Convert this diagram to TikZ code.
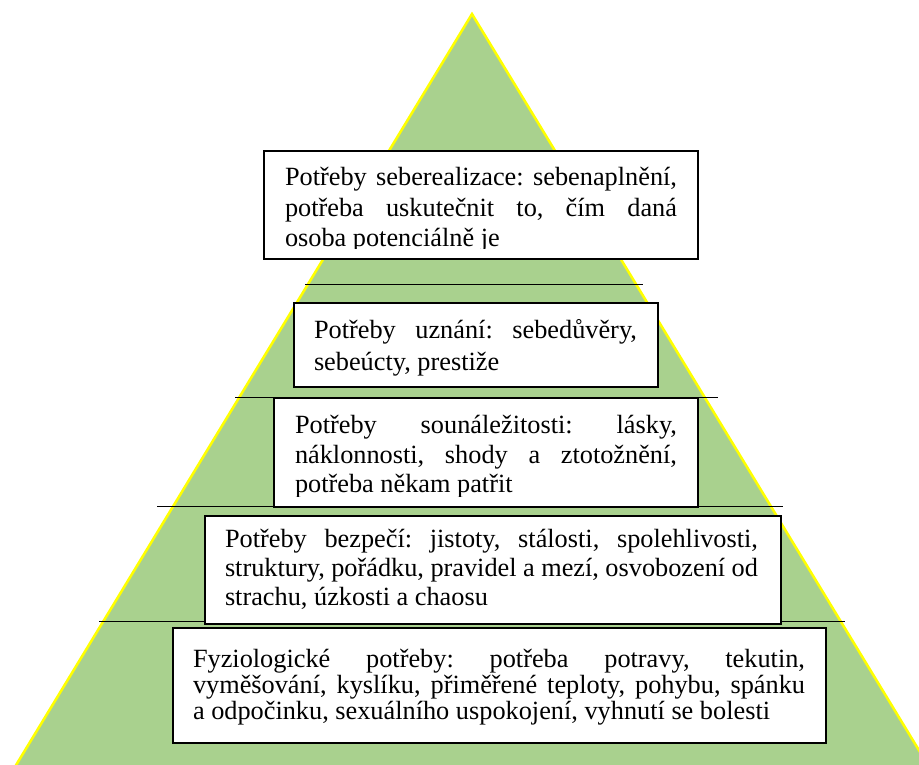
\documentclass[tikz,border=0pt]{standalone}
\usepackage{fontspec}
\setmainfont{Liberation Serif}
\definecolor{pyrgreen}{HTML}{A9D18E}
\definecolor{pyryellow}{HTML}{FFFF00}
\frenchspacing
\begin{document}
\frenchspacing
\begin{tikzpicture}[x=1pt,y=-1pt,
  box/.style={draw=black,line width=1.7pt,fill=white,inner sep=0pt,anchor=north west},
  txt/.style={anchor=base west,inner sep=0pt,outer sep=0pt,font=\fontsize{26.3}{30}\selectfont\frenchspacing},
  rule/.style={draw=black,line width=1pt}]
\useasboundingbox (0,0) rectangle (919,764);
\clip (0,0) rectangle (919,764);
% pyramid
\coordinate (apex) at (472,14);
\coordinate (bl) at (10,775);
\coordinate (br) at (934,775);
\fill[pyrgreen] (apex) -- (br) -- (bl) -- cycle;
\draw[pyryellow,line width=2.5pt,line join=miter] (bl) -- (apex) -- (br);
% horizontal rules
\coordinate (l1a) at (305,284); \coordinate (l1b) at (643,284);
\coordinate (l2a) at (235,397); \coordinate (l2b) at (718,397);
\coordinate (l3a) at (157,506); \coordinate (l3b) at (783,506);
\coordinate (l4a) at (99,621);  \coordinate (l4b) at (845,621);
\draw[rule] (l1a) -- (l1b);
\draw[rule] (l2a) -- (l2b);
\draw[rule] (l3a) -- (l3b);
\draw[rule] (l4a) -- (l4b);
% boxes
\node[box,minimum width=434pt,minimum height=108pt] (b1) at (263,150) {};
\node[box,minimum width=364pt,minimum height=84pt] (b2) at (293,302) {};
\node[box,minimum width=424pt,minimum height=109pt] (b3) at (273,397) {};
\node[box,minimum width=576pt,minimum height=108pt] (b4) at (204,515) {};
\node[box,minimum width=653pt,minimum height=115pt] (b5) at (172,627) {};
% texts box 1
\begin{scope}
\clip (263,150) rectangle (697,248);
\node[txt] (t1a) at (285,185) {\makebox[392pt][s]{Potřeby seberealizace: sebenaplnění,}};
\node[txt] (t1b) at (285,216) {\makebox[392pt][s]{potřeba uskutečnit to, čím daná}};
\node[txt] (t1c) at (285,246) {osoba potenciálně je};
\end{scope}
% box 2
\node[txt] (t2a) at (314,338) {\makebox[323pt][s]{Potřeby uznání: sebedůvěry,}};
\node[txt] (t2b) at (314,370) {sebeúcty, prestiže};
% box 3
\begin{scope}
\clip (273,397) rectangle (697,496);
\node[txt] (t3a) at (295,433) {\makebox[382pt][s]{Potřeby sounáležitosti: lásky,}};
\node[txt] (t3b) at (295,463) {\makebox[382pt][s]{náklonnosti, shody a ztotožnění,}};
\node[txt] (t3c) at (295,492) {potřeba někam patřit};
\end{scope}
% box 4
\begin{scope}
\clip (204,515) rectangle (780,608);
\node[txt] (t4a) at (225,547) {\makebox[533pt][s]{Potřeby bezpečí: jistoty, stálosti, spolehlivosti,}};
\node[txt] (t4b) at (225,576) {\makebox[533pt][s]{struktury, pořádku, pravidel a mezí, osvobození od}};
\node[txt] (t4c) at (225,605) {strachu, úzkosti a chaosu};
\end{scope}
% box 5
\node[txt] (t5a) at (193,667) {\makebox[612pt][s]{Fyziologické potřeby: potřeba potravy, tekutin,}};
\node[txt] (t5b) at (193,693) {\makebox[612pt][s]{vyměšování, kyslíku, přiměřené teploty, pohybu, spánku}};
\node[txt] (t5c) at (193,719) {a odpočinku, sexuálního uspokojení, vyhnutí se bolesti};
\end{tikzpicture}
\end{document}
